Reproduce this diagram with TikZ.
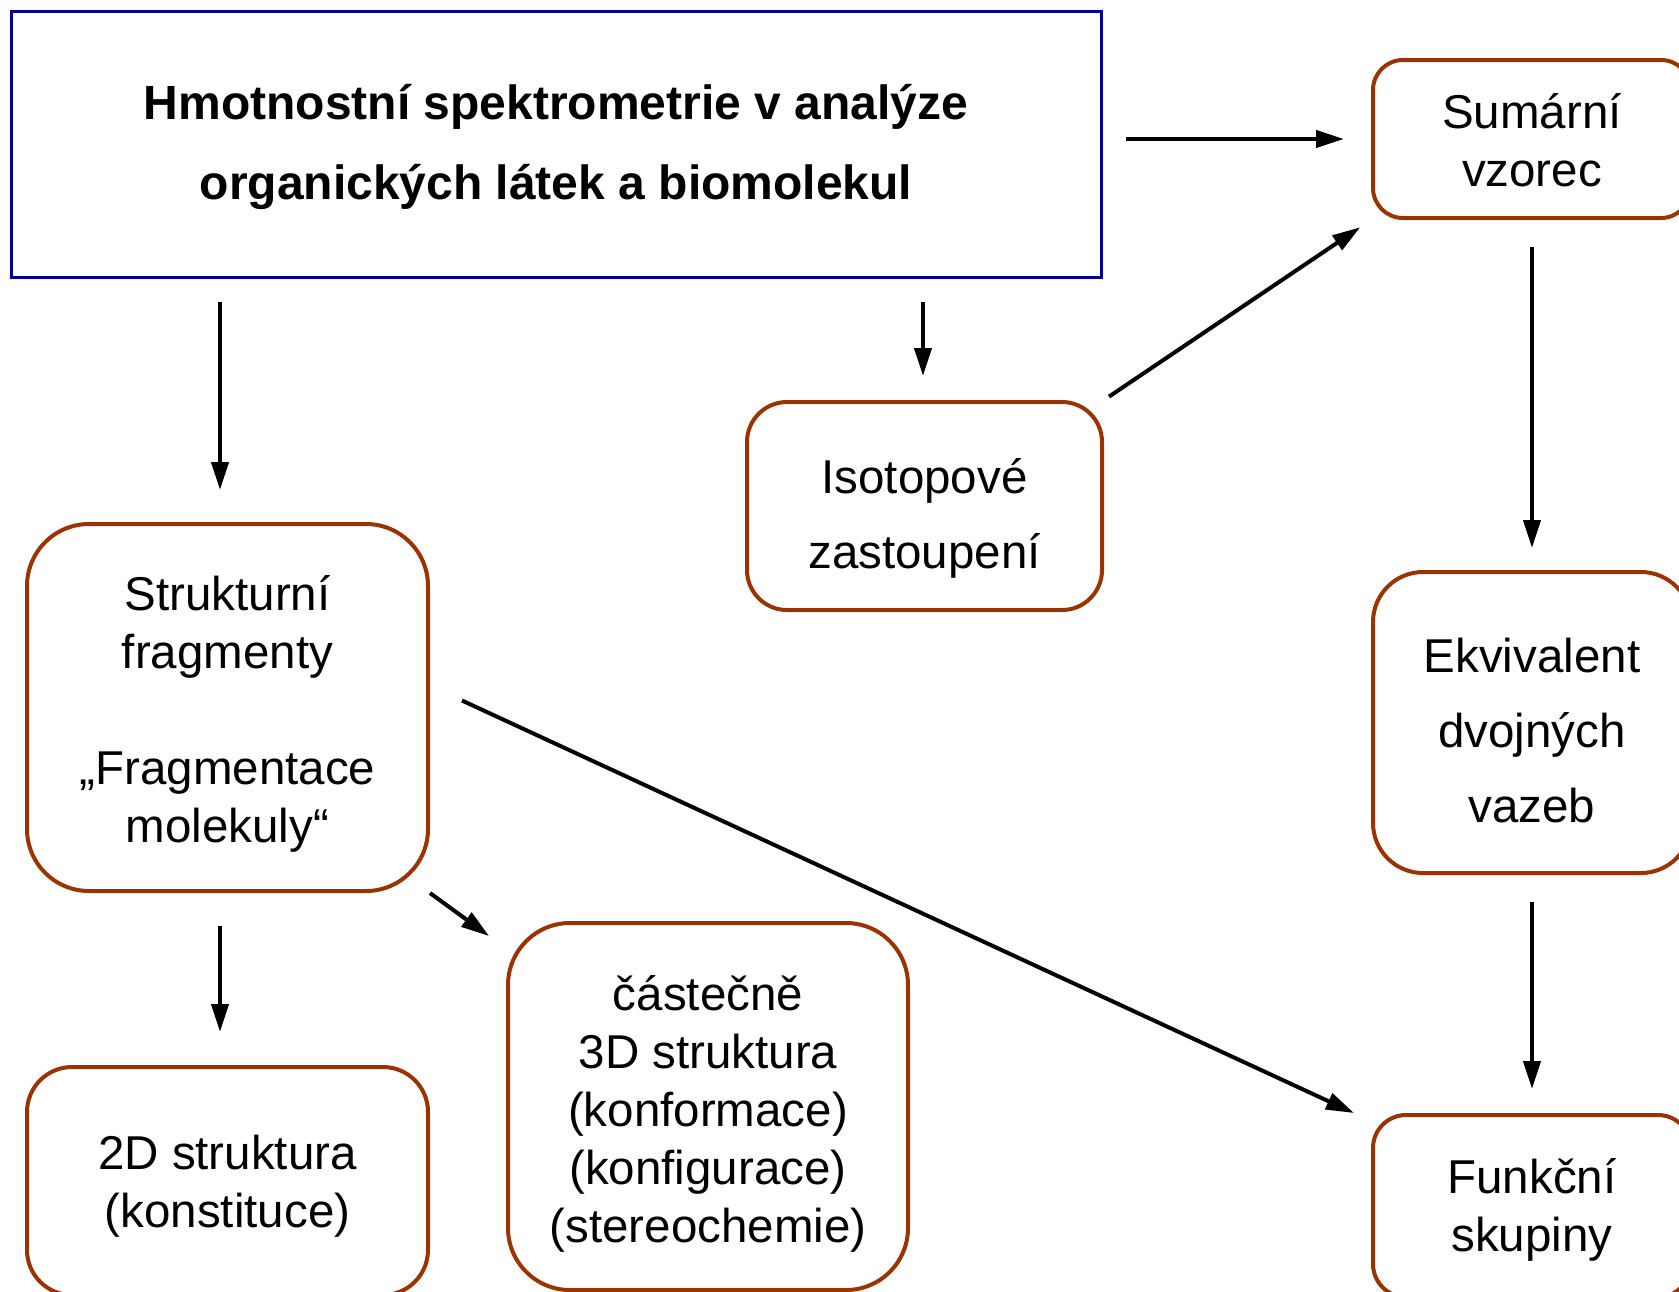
\documentclass[tikz,border=0pt]{standalone}
\usepackage{fontspec}
\setmainfont{Liberation Sans}
\usetikzlibrary{arrows.meta}
\definecolor{boxbrown}{RGB}{153,51,0}
\definecolor{titlenavy}{RGB}{0,0,150}
\begin{document}
\begin{tikzpicture}[x=1pt,y=-1pt,
  box/.style={draw=boxbrown, line width=4pt, fill=white, rounded corners=#1, inner sep=0pt},
  txt/.style={align=center, inner sep=0pt, font=\fontsize{47.5}{58}\selectfont},
  widetxt/.style={align=center, inner sep=0pt, font=\fontsize{47.5}{75}\selectfont},
  arr/.style={-{Triangle[length=28pt,width=17pt]}, line width=4pt}
]
\useasboundingbox (0,0) rectangle (1679,1291);
\clip (0,0) rectangle (1679,1291);

\node[draw=titlenavy, line width=3pt, minimum width=1090pt, minimum height=266pt, inner sep=0pt,
      label={[align=center, inner sep=0pt, yshift=-3pt, font=\fontsize{48}{80}\bfseries\selectfont]center:{Hmotnostní spektrometrie v analýze\\organických látek a biomolekul}}]
  (main) at (556,144) {};

\node[box=30pt, minimum width=318pt, minimum height=158pt,
      label={[txt, yshift=-1pt]center:{Sumární\\vzorec}}] (sum) at (1532,139) {};
\node[box=50pt, minimum width=318pt, minimum height=301pt,
      label={[widetxt, yshift=-8pt]center:{Ekvivalent\\dvojných\\vazeb}}] (ekv) at (1532,722.5) {};
\node[box=33pt, minimum width=318pt, minimum height=182pt,
      label={[txt, yshift=-4pt]center:{Funkční\\skupiny}}] (fun) at (1532,1206) {};
\node[box=40pt, minimum width=355pt, minimum height=208pt,
      label={[widetxt, yshift=-12pt]center:{Isotopové\\zastoupení}}] (iso) at (924.5,506) {};
\node[box=62pt, minimum width=401pt, minimum height=367pt,
      label={[txt, yshift=-6pt]center:{Strukturní\\fragmenty\\[58pt]„Fragmentace\\molekuly“}}] (strk) at (227.5,707.5) {};
\node[box=45pt, minimum width=401pt, minimum height=228pt,
      label={[txt, yshift=-5pt]center:{2D struktura\\(konstituce)}}] (twod) at (227.5,1181) {};
\node[box=62pt, minimum width=400pt, minimum height=367pt,
      label={[txt, yshift=-7pt]center:{částečně\\3D struktura\\(konformace)\\(konfigurace)\\(stereochemie)}}] (part) at (708,1106.5) {};

\draw[arr, shorten <=23pt, shorten >=32pt] (main.south -| 220,0) -- (strk.north -| 220,0);
\draw[arr, shorten <=23pt, shorten >=24pt] (main.south -| 923,0) -- (iso.north -| 923,0);
\draw[arr, shorten <=23pt, shorten >=27pt] (main.east |- sum.west) -- (sum.west);
\draw[arr, shorten <=6pt, shorten >=13pt] (iso.north east) -- (sum.south west);
\draw[arr, shorten <=27pt, shorten >=22pt] (sum.south) -- (ekv.north);
\draw[arr, shorten <=27pt, shorten >=24pt] (ekv.south) -- (fun.north);
\draw[arr] ([shift={(32pt,7pt)}]strk.east) -- ([xshift=-17pt]fun.north west);
\draw[arr, shorten <=33pt, shorten >=33pt] (strk.south -| 220,0) -- (twod.north -| 220,0);
\draw[arr] (strk.south east) -- ([shift={(-17pt,-15pt)}]part.north west);
\end{tikzpicture}
\end{document}
